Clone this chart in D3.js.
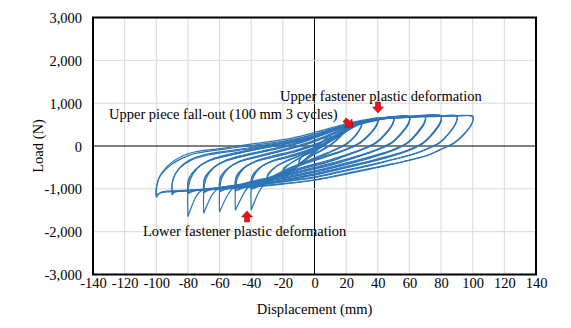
<!DOCTYPE html>
<html><head><meta charset="utf-8">
<script src="https://cdn.jsdelivr.net/npm/d3@7"></script>
<style>
html,body{margin:0;padding:0;background:#fff;}
svg{display:block;}
svg text{font-family:"Liberation Serif","Times New Roman",serif !important;fill:#000;}
</style></head><body>
<svg id="chart" width="571" height="328" font-family="Liberation Serif"></svg>
<script>
// ---- data (displacement mm, load N) ----
const xTicks = [-140,-120,-100,-80,-60,-40,-20,0,20,40,60,80,100,120,140];
const yTicks = [-3000,-2000,-1000,0,1000,2000,3000];
const yTickLabels = ["-3,000","-2,000","-1,000","0","1,000","2,000","3,000"];

const c10a = [[-10,-450],[-9,-300],[-5,-170],[0,-40],[5,100],[10,280],[9.5,170],[6,50],[2,-70],[-3,-210],[-8,-380],[-10,-450]];
const c10b = [[-10,-420],[-9,-280],[-4,-150],[1,-20],[6,120],[10,250],[9.5,150],[6,30],[2,-90],[-3,-230],[-8,-370],[-10,-420]];
const c20a = [[-20,-750],[-19.5,-560],[-15,-400],[-8,-250],[2,-80],[10,120],[17,330],[20,520],[19.5,400],[16,220],[11,60],[5,-80],[-3,-240],[-12,-500],[-18,-680],[-20,-750]];
const c20b = [[-20,-700],[-19.5,-520],[-14,-380],[-7,-230],[3,-60],[11,140],[18,340],[20,480],[19.5,370],[16,200],[11,40],[5,-100],[-3,-260],[-12,-520],[-18,-660],[-20,-700]];
const c30a = [[-30,-900],[-29.5,-700],[-25,-500],[-18,-350],[-8,-200],[3,-20],[12,160],[20,350],[25,480],[30,600],[29.5,470],[26,260],[21,80],[15,-50],[8,-160],[-5,-360],[-18,-600],[-27,-820],[-30,-900]];
const c30b = [[-30,-850],[-29.5,-660],[-24,-470],[-16,-330],[-6,-180],[4,-10],[13,170],[21,360],[26,470],[30,570],[29.5,440],[26,240],[21,60],[15,-60],[8,-180],[-5,-380],[-18,-620],[-27,-800],[-30,-850]];
const c40a = [[-40,-1500],[-40,-1020],[-38.5,-720],[-34,-500],[-27,-350],[-17,-240],[-5,-100],[8,100],[18,320],[24,450],[40,650],[39.5,520],[35,290],[29,90],[22,-40],[15,-140],[0,-300],[-15,-500],[-28,-760],[-34,-1000],[-40,-1500]];
const c40b = [[-40,-1000],[-39.5,-710],[-34,-490],[-26,-350],[-15,-250],[-3,-110],[9,90],[19,310],[24,440],[40,630],[39.5,500],[35,280],[29,80],[22,-50],[15,-150],[0,-320],[-15,-520],[-28,-780],[-37,-960],[-40,-1000]];
const c40c = [[-40,-1010],[-39.5,-730],[-35,-520],[-28,-370],[-18,-270],[-6,-130],[7,70],[18,290],[24,430],[40,620],[39.5,490],[35,270],[29,70],[22,-60],[14,-170],[0,-340],[-15,-540],[-28,-790],[-37,-970],[-40,-1010]];
const c50a = [[-50,-1500],[-50,-1040],[-48.5,-730],[-44,-500],[-37,-350],[-27,-240],[-12,-100],[3,80],[15,300],[23,460],[40,620],[50,680],[49.5,540],[45,300],[39,90],[32,-40],[25,-140],[10,-320],[-10,-520],[-30,-750],[-41,-930],[-44.5,-1100],[-50,-1500]];
const c50b = [[-50,-1040],[-49.5,-720],[-44,-490],[-36,-350],[-25,-250],[-10,-110],[4,70],[16,290],[23,450],[40,610],[50,670],[49.5,520],[45,290],[39,80],[32,-50],[25,-150],[10,-340],[-10,-540],[-30,-770],[-46,-980],[-50,-1040]];
const c50c = [[-50,-1050],[-49.5,-740],[-45,-520],[-38,-370],[-28,-270],[-13,-130],[2,50],[15,270],[23,440],[40,600],[50,660],[49.5,510],[45,280],[39,70],[32,-60],[24,-170],[10,-360],[-10,-560],[-30,-780],[-46,-990],[-50,-1050]];
const c60a = [[-60,-1540],[-60,-1060],[-58.5,-740],[-54,-510],[-47,-350],[-37,-240],[-22,-100],[-5,70],[10,280],[22,470],[40,630],[60,690],[59.5,550],[55,310],[49,90],[42,-40],[35,-140],[15,-360],[0,-500],[-20,-680],[-40,-830],[-51,-970],[-54.5,-1120],[-60,-1540]];
const c60b = [[-60,-1060],[-59.5,-730],[-54,-500],[-46,-350],[-35,-250],[-20,-110],[-3,60],[11,270],[22,460],[40,620],[60,680],[59.5,530],[55,300],[49,80],[42,-50],[35,-150],[15,-380],[0,-520],[-20,-700],[-40,-850],[-56,-1000],[-60,-1060]];
const c60c = [[-60,-1070],[-59.5,-750],[-55,-530],[-48,-370],[-38,-270],[-23,-130],[-6,40],[10,250],[22,450],[40,610],[60,670],[59.5,520],[55,290],[49,70],[42,-60],[34,-170],[15,-400],[0,-540],[-20,-710],[-40,-860],[-56,-1010],[-60,-1070]];
const c70a = [[-70,-1570],[-70,-1080],[-68.5,-760],[-64,-520],[-57,-350],[-47,-230],[-30,-90],[-12,70],[5,280],[20,480],[40,640],[60,690],[70,700],[69.5,560],[65,320],[59,90],[52,-50],[45,-150],[25,-350],[5,-540],[-10,-660],[-30,-800],[-50,-910],[-61,-1000],[-64.5,-1130],[-70,-1570]];
const c70b = [[-70,-1080],[-69.5,-750],[-64,-510],[-56,-350],[-45,-240],[-28,-100],[-10,60],[6,270],[21,470],[40,630],[60,680],[70,690],[69.5,540],[65,300],[59,80],[52,-60],[44,-160],[25,-370],[5,-560],[-10,-680],[-30,-810],[-50,-920],[-66,-1010],[-70,-1080]];
const c70c = [[-70,-1090],[-69.5,-770],[-65,-540],[-58,-370],[-48,-260],[-31,-120],[-13,40],[4,250],[20,460],[40,620],[60,670],[70,680],[69.5,530],[65,290],[59,70],[52,-70],[44,-180],[25,-390],[5,-570],[-10,-690],[-30,-820],[-50,-930],[-66,-1020],[-70,-1090]];
const c80a = [[-80,-1650],[-80,-1100],[-78.5,-780],[-74,-520],[-67,-340],[-57,-220],[-40,-80],[-20,60],[0,230],[18,470],[40,640],[60,690],[80,705],[79.5,560],[75,320],[69,90],[62,-50],[55,-150],[35,-350],[15,-520],[0,-650],[-20,-790],[-40,-900],[-60,-970],[-71,-1030],[-74.5,-1160],[-80,-1650]];
const c80b = [[-80,-1100],[-79.5,-770],[-74,-510],[-66,-340],[-55,-230],[-38,-90],[-18,50],[1,220],[19,460],[40,630],[60,680],[80,690],[79.5,540],[75,300],[69,80],[62,-60],[54,-170],[35,-360],[15,-540],[0,-670],[-20,-800],[-40,-910],[-60,-980],[-76,-1040],[-80,-1100]];
const c80c = [[-80,-1110],[-79.5,-790],[-75,-540],[-68,-360],[-58,-250],[-41,-110],[-21,30],[-1,200],[18,450],[40,620],[60,670],[80,680],[79.5,530],[75,290],[69,70],[62,-70],[54,-180],[35,-380],[15,-550],[0,-680],[-20,-810],[-40,-920],[-60,-990],[-76,-1050],[-80,-1110]];
const c90a = [[-90,-1150],[-89.5,-800],[-86,-540],[-79,-330],[-68,-190],[-50,-90],[-30,30],[-10,170],[5,320],[20,500],[40,640],[60,685],[80,700],[90,705],[89.5,560],[85,300],[79,80],[72,-50],[65,-160],[40,-400],[20,-560],[0,-720],[-20,-830],[-40,-920],[-60,-990],[-80,-1030],[-88,-1060],[-90,-1150]];
const c90b = [[-90,-1100],[-89.5,-780],[-85.5,-530],[-78,-330],[-66,-200],[-48,-100],[-28,20],[-8,160],[6,310],[21,490],[40,630],[60,675],[80,690],[90,690],[89.5,540],[85,290],[79,70],[72,-60],[64,-170],[40,-410],[20,-580],[0,-740],[-20,-840],[-40,-930],[-60,-995],[-80,-1040],[-88,-1070],[-90,-1100]];
const c100a = [[-100,-1200],[-100,-1030],[-98,-720],[-91,-405],[-79,-170],[-58,-55],[-37,60],[-15,180],[2,335],[20,520],[30,600],[40,650],[50,680],[60,690],[70,700],[80,705],[90,700],[100,695],[99.6,540],[94,264],[88,70],[81.6,-47],[75,-164],[69,-250],[41,-480],[20,-640],[0,-790],[-20,-880],[-40,-950],[-60,-1000],[-80,-1040],[-97,-1080],[-100,-1200]];
const c100b = [[-100,-1150],[-100,-980],[-97.5,-700],[-90,-420],[-78,-200],[-58,-80],[-36,30],[-14,150],[3,310],[21,500],[40,630],[60,675],[80,690],[100,680],[99.5,520],[94,250],[88,60],[81,-60],[74,-180],[60,-330],[40,-500],[20,-660],[0,-800],[-20,-890],[-40,-960],[-60,-1010],[-80,-1050],[-97,-1090],[-100,-1150]];

const cycles = [c10a,c10b,c20a,c20b,c30a,c30b,c40a,c40b,c40c,c50a,c50b,c50c,c60a,c60b,c60c,
                c70a,c70b,c70c,c80a,c80b,c80c,c90a,c90b,c100a,c100b];

// ---- layout ----
const L = 93, R = 536, T = 17.5, B = 274.5;
const x = d3.scaleLinear().domain([-140,140]).range([L,R]);
const y = d3.scaleLinear().domain([-3000,3000]).range([B,T]);
const svg = d3.select("#chart");
const FS = 14.5;
const FF = "Liberation Serif";

// gridlines
svg.append("g").selectAll("line").data(xTicks).join("line")
  .attr("x1",d=>x(d)).attr("x2",d=>x(d)).attr("y1",T).attr("y2",B)
  .attr("stroke",d=>d===0?"#000":"#d9d9d9").attr("stroke-width",1);
svg.append("g").selectAll("line").data(yTicks).join("line")
  .attr("y1",d=>y(d)).attr("y2",d=>y(d)).attr("x1",L).attr("x2",R)
  .attr("stroke",d=>d===0?"#000":"#d9d9d9").attr("stroke-width",1);

// data
const line = d3.line().x(d=>x(d[0])).y(d=>y(d[1])).curve(d3.curveCatmullRom.alpha(0.5));
svg.append("g").selectAll("path").data(cycles).join("path")
  .attr("d",line).attr("fill","none").attr("stroke","#2e75b6").attr("stroke-width",1.2)
  .attr("stroke-linejoin","round");

// frame
svg.append("rect").attr("x",L).attr("y",T).attr("width",R-L).attr("height",B-T)
  .attr("fill","none").attr("stroke","#000").attr("stroke-width",2);

// axes
const xAxis = d3.axisBottom(x).tickValues(xTicks).tickSize(0).tickPadding(0).tickFormat(d=>String(d));
const gx = svg.append("g").attr("transform",`translate(0,${B})`).call(xAxis);
gx.attr("font-family",FF).attr("font-size",FS);
gx.select(".domain").remove();
gx.selectAll("text").attr("y",13.5).attr("dy",0).attr("font-family",FF).style("font-size",FS+"px");

const yAxis = d3.axisLeft(y).tickValues(yTicks).tickSize(0).tickPadding(0)
  .tickFormat((d,i)=>yTickLabels[i]);
const gy = svg.append("g").attr("transform",`translate(${L-11},0)`).call(yAxis);
gy.attr("font-family",FF).attr("font-size",FS);
gy.select(".domain").remove();
gy.selectAll("text").attr("x",0).attr("dy","0.35em").attr("font-family",FF).style("font-size",FS+"px");

// axis titles
svg.append("text").attr("x",(L+R)/2).attr("y",314).attr("text-anchor","middle")
  .attr("font-family",FF).style("font-size",FS+"px").text("Displacement (mm)");
svg.append("text").attr("transform",`translate(43,${(T+B)/2}) rotate(-90)`).attr("text-anchor","middle")
  .attr("font-family",FF).style("font-size",FS+"px").text("Load (N)");

// annotations
const ann = [
  {t:"Upper fastener plastic deformation", x:280, y:101},
  {t:"Upper piece fall-out (100 mm 3 cycles)", x:109, y:119},
  {t:"Lower fastener plastic deformation", x:143, y:236}
];
svg.append("g").selectAll("text").data(ann).join("text")
  .attr("x",d=>d.x).attr("y",d=>d.y).attr("font-family",FF).style("font-size",FS+"px").text(d=>d.t);

const arrowPath = "M0,0 L-5.5,-6 L-2.5,-6 L-2.5,-11 L2.5,-11 L2.5,-6 L5.5,-6 Z";
const arrows = [
  {x:378, y:113, r:0},
  {x:247, y:211, r:180},
  {x:353, y:127, r:-50}
];
svg.append("g").selectAll("path").data(arrows).join("path")
  .attr("d",arrowPath).attr("transform",d=>`translate(${d.x},${d.y}) rotate(${d.r})`)
  .attr("fill","#e8141b").attr("stroke","#9b0000").attr("stroke-width",0.5);
</script>
</body></html>
